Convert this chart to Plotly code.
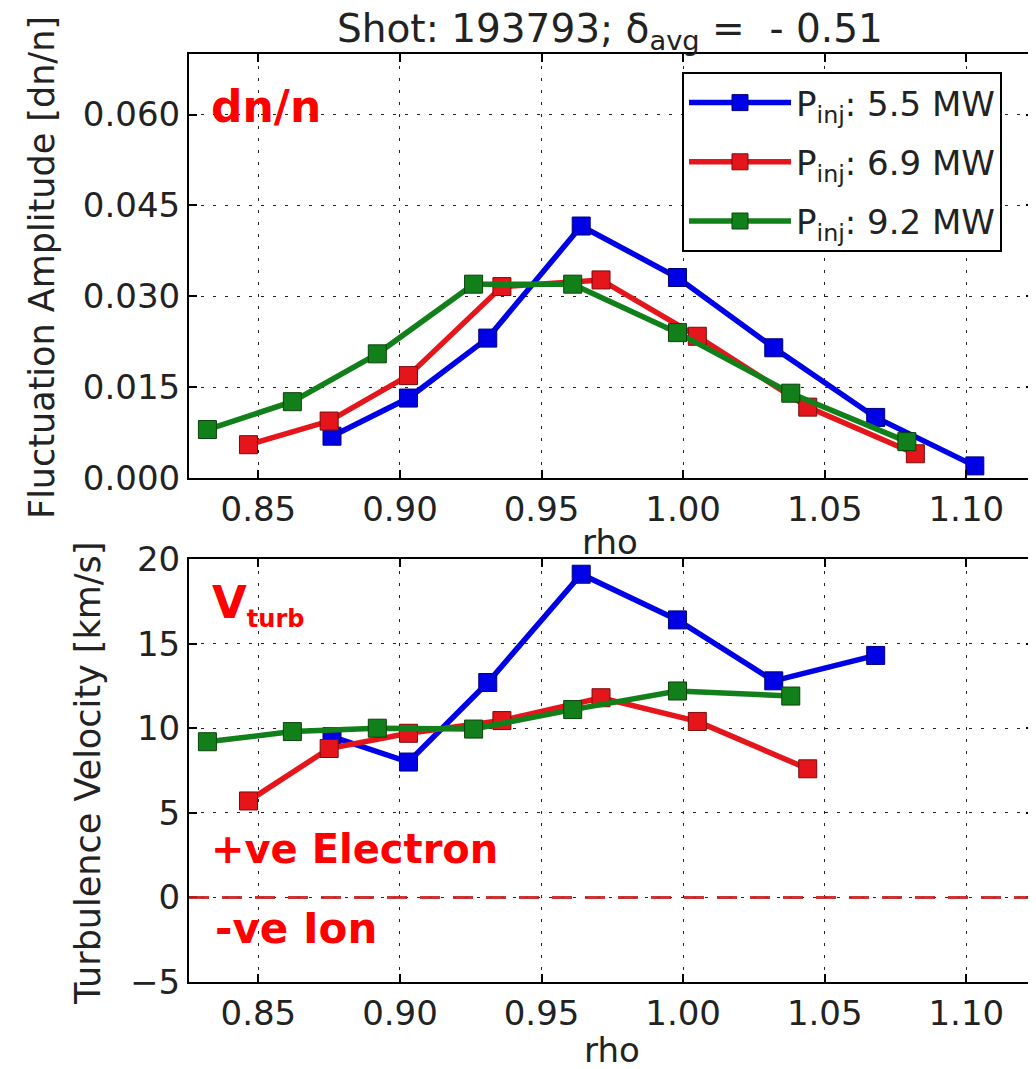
import plotly.graph_objects as go

# ---------------- data ----------------
labels = ["P<sub>inj</sub>: 5.5 MW", "P<sub>inj</sub>: 6.9 MW", "P<sub>inj</sub>: 9.2 MW"]
colors = ["#0000e6", "#e5161b", "#12801a"]
edge_colors = ["#00007a", "#7a0a0a", "#0a400a"]

rho_55 = [0.876, 0.903, 0.931, 0.964, 0.998, 1.032, 1.068, 1.103]
dn_55 = [0.0069, 0.0132, 0.0231, 0.0416, 0.0331, 0.0215, 0.0100, 0.0020]
rho_69 = [0.8465, 0.875, 0.903, 0.936, 0.971, 1.005, 1.044, 1.082]
dn_69 = [0.0055, 0.0094, 0.0169, 0.0316, 0.0327, 0.0234, 0.0117, 0.0040]
rho_92 = [0.832, 0.862, 0.892, 0.926, 0.961, 0.998, 1.038, 1.079]
dn_92 = [0.0080, 0.0126, 0.0205, 0.0320, 0.0320, 0.0240, 0.0140, 0.0060]

vrho_55 = [0.876, 0.903, 0.931, 0.964, 0.998, 1.032, 1.068]
vt_55 = [9.5, 8.0, 12.7, 19.1, 16.4, 12.8, 14.3]
vrho_69 = [0.8465, 0.875, 0.903, 0.936, 0.971, 1.005, 1.044]
vt_69 = [5.7, 8.8, 9.7, 10.45, 11.8, 10.4, 7.6]
vrho_92 = [0.832, 0.862, 0.892, 0.926, 0.961, 0.998, 1.038]
vt_92 = [9.2, 9.8, 10.0, 9.95, 11.1, 12.2, 11.9]

x_ticks = [0.85, 0.90, 0.95, 1.00, 1.05, 1.10]
dn_ticks = [0.000, 0.015, 0.030, 0.045, 0.060]
vt_ticks = [-5, 0, 5, 10, 15, 20]

title_text = "Shot: 193793; δ<sub>avg</sub> =  - 0.51"

# ---------------- figure ----------------
# the page body has an 8px margin; size the figure to end at the window edge
OFF = 8
W, H = 1036 - OFF, 1069 - OFF
FONT = "DejaVu Sans"
TXT = "#222222"

fig = go.Figure()

top_sets = [(rho_55, dn_55), (rho_69, dn_69), (rho_92, dn_92)]
bot_sets = [(vrho_55, vt_55), (vrho_69, vt_69), (vrho_92, vt_92)]

for i, (xs, ys) in enumerate(top_sets):
    fig.add_trace(go.Scatter(
        x=xs, y=ys, mode="lines+markers", name=labels[i],
        line=dict(color=colors[i], width=5.5),
        marker=dict(symbol="square", size=18, color=colors[i],
                    line=dict(color=edge_colors[i], width=1)),
        xaxis="x", yaxis="y", showlegend=True, legendgroup=str(i)))

for i, (xs, ys) in enumerate(bot_sets):
    fig.add_trace(go.Scatter(
        x=xs, y=ys, mode="lines+markers", name=labels[i],
        line=dict(color=colors[i], width=5.5),
        marker=dict(symbol="square", size=18, color=colors[i],
                    line=dict(color=edge_colors[i], width=1)),
        xaxis="x2", yaxis="y2", showlegend=False, legendgroup=str(i)))

def px_x(p):
    return (p - OFF) / W

def px_y(p):
    return 1 - (p - OFF) / H

x_dom = [px_x(189), px_x(1034)]
top_dom = [px_y(478), px_y(54)]
bot_dom = [px_y(982), px_y(559)]
x_range = [0.8255, 1.1239]

axis_common = dict(
    showline=True, linecolor="black", linewidth=2, mirror="allticks",
    ticks="inside", ticklen=8, tickwidth=1.5, tickcolor="black",
    showgrid=True, gridcolor="#222222", gridwidth=1.2, griddash="3px,9px",
    zeroline=False, automargin=False,
    tickfont=dict(family=FONT, size=34, color=TXT),
)

fig.update_layout(
    width=W, height=H,
    margin=dict(l=0, r=0, t=0, b=0, autoexpand=False),
    paper_bgcolor="white", plot_bgcolor="white",
    font=dict(family=FONT, color=TXT),
    xaxis=dict(domain=x_dom, anchor="y", range=x_range,
               tickvals=x_ticks, tickformat=".2f", **axis_common),
    yaxis=dict(domain=top_dom, anchor="x", range=[0, 0.07],
               tickvals=dn_ticks, tickformat=".3f", **axis_common),
    xaxis2=dict(domain=x_dom, anchor="y2", range=x_range,
                tickvals=x_ticks, tickformat=".2f", **axis_common),
    yaxis2=dict(domain=bot_dom, anchor="x2", range=[-5, 20],
                tickvals=vt_ticks, **axis_common),
    legend=dict(x=px_x(682), y=px_y(72), xanchor="left", yanchor="top",
                bgcolor="white", bordercolor="black", borderwidth=2,
                font=dict(family=FONT, size=34, color=TXT),
                tracegroupgap=12, itemwidth=102),
    showlegend=True,
)

# zero line in lower panel
fig.add_shape(type="line", xref="x2 domain", yref="y2", x0=0, x1=1, y0=0, y1=0,
              line=dict(color="rgba(200,30,30,0.9)", width=3, dash="20px,13px"))

ann = []
# title
ann.append(dict(text=title_text, x=px_x(610), y=px_y(31), xref="paper", yref="paper",
                showarrow=False, xanchor="center", yanchor="middle",
                font=dict(family=FONT, size=39, color=TXT)))
# axis titles
ann.append(dict(text="Fluctuation Amplitude [dn/n]", x=px_x(42), y=px_y(268),
                xref="paper", yref="paper", showarrow=False, textangle=-90,
                xanchor="center", yanchor="middle",
                font=dict(family=FONT, size=35, color=TXT)))
ann.append(dict(text="Turbulence Velocity [km/s]", x=px_x(88), y=px_y(773),
                xref="paper", yref="paper", showarrow=False, textangle=-90,
                xanchor="center", yanchor="middle",
                font=dict(family=FONT, size=35, color=TXT)))
ann.append(dict(text="rho", x=px_x(610), y=px_y(542), xref="paper", yref="paper",
                showarrow=False, xanchor="center", yanchor="middle",
                font=dict(family=FONT, size=34, color=TXT)))
ann.append(dict(text="rho", x=px_x(612), y=px_y(1050), xref="paper", yref="paper",
                showarrow=False, xanchor="center", yanchor="middle",
                font=dict(family=FONT, size=34, color=TXT)))
# red labels
red = "#ff0000"
ann.append(dict(text="<b>dn/n</b>", x=px_x(209), y=px_y(106), xref="paper", yref="paper",
                showarrow=False, xanchor="left", yanchor="middle",
                font=dict(family=FONT, size=44, color=red)))
ann.append(dict(text="<b>V<sub><span style='font-size:24px'>turb</span></sub></b>",
                x=px_x(210), y=px_y(604), xref="paper", yref="paper",
                showarrow=False, xanchor="left", yanchor="middle",
                font=dict(family=FONT, size=45, color=red)))
ann.append(dict(text="<b>+ve Electron</b>", x=px_x(209), y=px_y(849), xref="paper", yref="paper",
                showarrow=False, xanchor="left", yanchor="middle",
                font=dict(family=FONT, size=40, color=red)))
ann.append(dict(text="<b>-ve Ion</b>", x=px_x(213), y=px_y(928), xref="paper", yref="paper",
                showarrow=False, xanchor="left", yanchor="middle",
                font=dict(family=FONT, size=42, color=red)))

fig.update_layout(annotations=ann)

fig.write_html("out.html")
